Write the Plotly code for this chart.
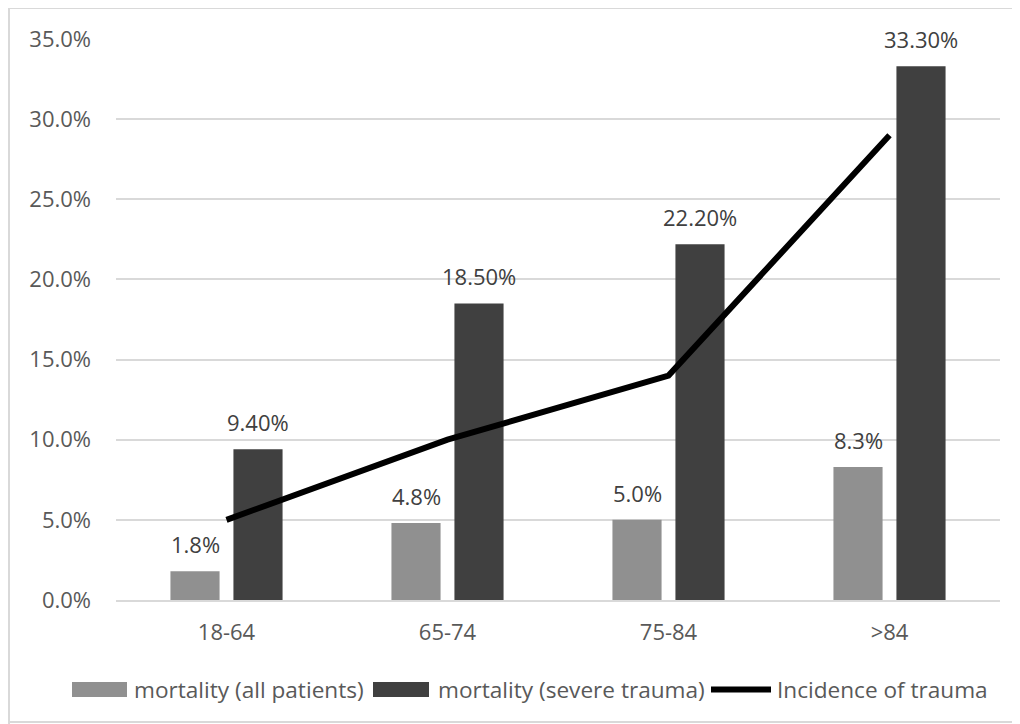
import plotly.graph_objects as go

categories = ["18-64", "65-74", "75-84", ">84"]
mortality_all = [0.018, 0.048, 0.050, 0.083]
mortality_severe = [0.094, 0.185, 0.222, 0.333]
incidence = [0.050, 0.100, 0.140, 0.290]
y_ticks = [0, 0.05, 0.10, 0.15, 0.20, 0.25, 0.30, 0.35]
series_names = ["mortality (all patients)", "mortality (severe trauma)", "Incidence of trauma"]

FONT = "Open Sans"
LABEL_COLOR = "#404040"
TEXT_COLOR = "#595959"
LIGHT = "#909090"
DARK = "#404040"

W, H = 1012, 716
L, R, T, B = 108, 20, 31, 124
PW, PH = W - L - R, H - T - B


def px(fx):
    return (fx - L) / PW


def py(fy):
    return (H - B - fy) / PH


fig = go.Figure()
fig.add_bar(x=categories, y=mortality_all, name=series_names[0],
            marker=dict(color=LIGHT, line=dict(width=0)), showlegend=False)
fig.add_bar(x=categories, y=mortality_severe, name=series_names[1],
            marker=dict(color=DARK, line=dict(width=0)), showlegend=False)
fig.add_scatter(x=categories, y=incidence, name=series_names[2], mode="lines",
                line=dict(color="black", width=6), showlegend=False)

annotations = []
for c, v in zip(categories, mortality_all):
    annotations.append(dict(x=c, y=v, xref="x", yref="y", text=f"{v*100:.1f}%",
                            showarrow=False, yanchor="bottom", xshift=-31.5, yshift=10,
                            font=dict(family=FONT, size=22, color=LABEL_COLOR)))
for c, v in zip(categories, mortality_severe):
    annotations.append(dict(x=c, y=v, xref="x", yref="y", text=f"{v*100:.2f}%",
                            showarrow=False, yanchor="bottom", xshift=31.5, yshift=10,
                            font=dict(family=FONT, size=22, color=LABEL_COLOR)))

# custom legend (wide swatches like the original)
LEG_Y = 681.5
legend_items = [
    (series_names[0], LIGHT, "rect", 64, 119, 124),
    (series_names[1], DARK, "rect", 365, 421, 428),
    (series_names[2], "black", "line", 703, 763, 767),
]
shapes = []
for name, color, kind, x0, x1, tx in legend_items:
    if kind == "rect":
        shapes.append(dict(type="rect", xref="paper", yref="paper",
                           x0=px(x0), x1=px(x1), y0=py(LEG_Y + 7.5), y1=py(LEG_Y - 7.5),
                           fillcolor=color, line=dict(width=0)))
    else:
        shapes.append(dict(type="line", xref="paper", yref="paper",
                           x0=px(x0), x1=px(x1), y0=py(LEG_Y), y1=py(LEG_Y),
                           line=dict(color=color, width=6)))
    annotations.append(dict(x=px(tx), y=py(LEG_Y), xref="paper", yref="paper",
                            text=name, showarrow=False, xanchor="left", yanchor="middle",
                            font=dict(family=FONT, size=22.6, color=TEXT_COLOR)))

# outer frame: left, top and bottom edges only (right edge lies off-canvas)
FRAME = dict(color="#d9d9d9", width=2)
for (x0, y0, x1, y1) in [(1, 0, 1, 716), (1, 0, 1012, 0), (1, 714, 1012, 714)]:
    shapes.append(dict(type="line", xref="paper", yref="paper", layer="below",
                       x0=px(x0), x1=px(x1), y0=py(y0), y1=py(y1), line=FRAME))

fig.update_layout(
    width=W, height=H,
    margin=dict(l=L, r=R, t=T, b=B),
    paper_bgcolor="white", plot_bgcolor="white",
    barmode="group", bargap=0.43, bargroupgap=0.22,
    font=dict(family=FONT, size=22, color=TEXT_COLOR),
    showlegend=False,
    xaxis=dict(showgrid=False, showline=True, linecolor="#d9d9d9", linewidth=2,
               ticks="", ticklabelstandoff=12, tickfont=dict(size=22)),
    yaxis=dict(range=[0, 0.35], tickvals=y_ticks, tickformat=".1%",
               showgrid=True, gridcolor="#d9d9d9", gridwidth=2, zeroline=False,
               showline=False, ticks="", ticklabelstandoff=24, tickfont=dict(size=22)),
    shapes=shapes,
    annotations=annotations,
)
fig.write_html("out.html")
